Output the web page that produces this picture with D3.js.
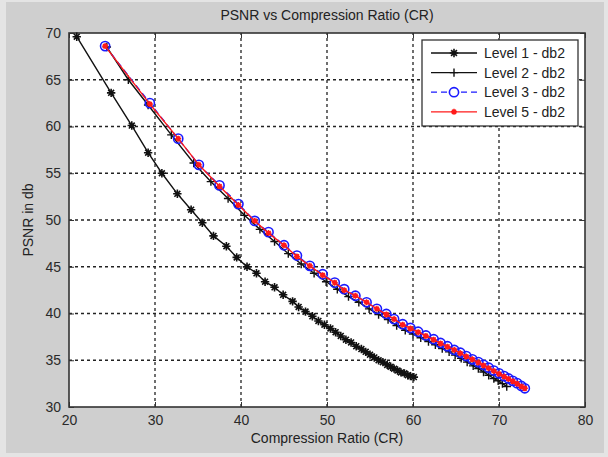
<!DOCTYPE html>
<html lang="en">
<head>
<meta charset="UTF-8">
<title>PSNR vs Compression Ratio (CR)</title>
<script src="https://d3js.org/d3.v7.min.js"></script>
<style>
  body { margin: 0; background: #e4e4e4; }
  svg { display: block; font-family: "Liberation Sans", Arial, sans-serif; }
</style>
</head>
<body>
<div id="chart"></div>
<script>
// Level 1 - db2 (black, asterisk)
const level1X = [20.9, 24.9, 27.3, 29.2, 30.8, 32.6, 34.2, 35.5, 36.8, 38.3, 39.5, 40.7, 41.8, 42.8, 43.9, 44.9, 46.0, 46.7,
  47.5, 48.3, 49.0, 49.7, 50.4, 51.0, 51.6, 52.2, 52.8, 53.4, 54.0, 54.5, 55.0, 55.5, 56.0, 56.5, 57.0, 57.4, 57.8, 58.2, 58.6, 59.0, 59.4, 59.7, 60.1];
const level1Y = [69.6, 63.6, 60.1, 57.2, 55.0, 52.8, 51.1, 49.7, 48.3, 47.2, 46.0, 45.0, 44.3, 43.4, 42.8, 42.0, 41.3, 40.7,
  40.2, 39.7, 39.2, 38.8, 38.4, 38.0, 37.6, 37.2, 36.9, 36.5, 36.2, 35.9, 35.6, 35.3, 35.0, 34.8, 34.5, 34.3, 34.1, 33.9, 33.7, 33.6, 33.4, 33.3, 33.2];

// Level 2 - db2 (black, plus)
const level2X = [24.4, 26.9, 29.2, 31.9, 34.5, 36.5, 38.5, 40.4, 42.2, 43.9, 45.5, 47.0, 48.5, 49.9, 51.2, 52.5, 53.7, 54.9, 56.0, 57.1,
  58.1, 59.1, 60.0, 60.9, 61.8, 62.6, 63.4, 64.2, 64.9, 65.6, 66.3, 67.0, 67.6, 68.2, 68.8, 69.4, 69.9, 70.4, 70.9];
const level2Y = [68.5, 65.0, 62.3, 59.1, 56.1, 54.1, 52.3, 50.5, 49.0, 47.7, 46.4, 45.3, 44.3, 43.4, 42.6, 41.8, 41.2, 40.5, 39.9, 39.35,
  38.7, 38.2, 37.8, 37.4, 37.0, 36.65, 36.25, 35.9, 35.55, 35.2, 34.8, 34.4, 34.1, 33.75, 33.4, 33.05, 32.8, 32.5, 32.2];

// Level 3 - db2 (blue dashed, circle)
const level3X = [24.2, 29.4, 32.7, 35.1, 37.5, 39.7, 41.6, 43.2, 45.0, 46.5, 48.0, 49.5, 50.9, 52.0, 53.3, 54.6, 55.8, 56.9, 57.8,
  58.8, 59.7, 60.6, 61.5, 62.4, 63.2, 64.0, 64.8, 65.5, 66.2, 66.9, 67.6, 68.2, 68.8, 69.4, 70.0, 70.6, 71.1, 71.6, 72.1, 72.6, 73.0];
const level3Y = [68.6, 62.5, 58.7, 55.9, 53.7, 51.7, 49.9, 48.7, 47.3, 46.2, 45.1, 44.2, 43.3, 42.6, 41.9, 41.2, 40.5, 39.95, 39.4,
  38.85, 38.45, 38.05, 37.65, 37.25, 36.85, 36.5, 36.1, 35.8, 35.45, 35.1, 34.8, 34.5, 34.2, 33.9, 33.6, 33.3, 33.05, 32.8, 32.55, 32.25, 32.0];

// Level 5 - db2 (red, star)
const level5X = [24.2, 29.4, 32.7, 35.1, 37.5, 39.7, 41.6, 43.2, 45.0, 46.5, 48.0, 49.5, 50.9, 52.0, 53.3, 54.6, 55.8, 56.9, 57.8,
  58.8, 59.7, 60.6, 61.5, 62.4, 63.2, 64.0, 64.8, 65.5, 66.2, 66.9, 67.6, 68.2, 68.8, 69.4, 70.0, 70.6, 71.1, 71.6, 72.1, 72.6, 73.0];
const level5Y = [68.6, 62.4, 58.7, 55.9, 53.6, 51.6, 49.9, 48.6, 47.3, 46.1, 45.1, 44.1, 43.3, 42.5, 41.9, 41.2, 40.5, 39.9, 39.4,
  38.8, 38.4, 38.0, 37.6, 37.2, 36.8, 36.45, 36.1, 35.75, 35.4, 35.1, 34.75, 34.45, 34.15, 33.85, 33.55, 33.25, 33.0, 32.75, 32.5, 32.2, 32.0];

const xTicks = [20, 30, 40, 50, 60, 70, 80];
const yTicks = [30, 35, 40, 45, 50, 55, 60, 65, 70];
const seriesNames = ["Level 1 - db2", "Level 2 - db2", "Level 3 - db2", "Level 5 - db2"];

const W = 608, H = 457;
const svg = d3.select("#chart").append("svg").attr("width", W).attr("height", H);

// figure background
svg.append("rect").attr("x", 6).attr("y", 2).attr("width", 598).attr("height", 451).attr("fill", "#cfcfcf");

const x = d3.scaleLinear().domain([20, 80]).range([69, 585]);
const y = d3.scaleLinear().domain([30, 70]).range([407, 33]);

svg.append("rect")
  .attr("x", x(20)).attr("y", y(70))
  .attr("width", x(80) - x(20)).attr("height", y(30) - y(70))
  .attr("fill", "#fff");

// grid
const grid = svg.append("g").attr("stroke", "#222").attr("stroke-width", 1.3).attr("stroke-dasharray", "3,3");
xTicks.slice(1, -1).forEach(t => {
  grid.append("line").attr("x1", x(t)).attr("x2", x(t)).attr("y1", y(30)).attr("y2", y(70));
});
yTicks.slice(1, -1).forEach(t => {
  grid.append("line").attr("x1", x(20)).attr("x2", x(80)).attr("y1", y(t)).attr("y2", y(t));
});

// axes (ticks inside, all four sides)
const tickStyle = g => {
  g.select(".domain").remove();
  g.selectAll("line").attr("stroke", "#333");
  g.selectAll("text").attr("fill", "#2a2a2a").attr("font-size", 14);
};
svg.append("g").attr("transform", `translate(0,${y(30)})`)
  .call(d3.axisBottom(x).tickValues(xTicks).tickSizeInner(-5).tickPadding(8).tickSizeOuter(0))
  .call(tickStyle);
svg.append("g").attr("transform", `translate(0,${y(70)})`)
  .call(d3.axisTop(x).tickValues(xTicks).tickSizeInner(-5).tickFormat("").tickSizeOuter(0))
  .call(tickStyle);
svg.append("g").attr("transform", `translate(${x(20)},0)`)
  .call(d3.axisLeft(y).tickValues(yTicks).tickSizeInner(-5).tickPadding(8).tickSizeOuter(0))
  .call(tickStyle);
svg.append("g").attr("transform", `translate(${x(80)},0)`)
  .call(d3.axisRight(y).tickValues(yTicks).tickSizeInner(-5).tickFormat("").tickSizeOuter(0))
  .call(tickStyle);

svg.append("rect")
  .attr("x", x(20)).attr("y", y(70))
  .attr("width", x(80) - x(20)).attr("height", y(30) - y(70))
  .attr("fill", "none").attr("stroke", "#333").attr("stroke-width", 1.6);

// marker paths
const star = r => `M${-r},0H${r}M0,${-r}V${r}M${-r * 0.7},${-r * 0.7}L${r * 0.7},${r * 0.7}M${-r * 0.7},${r * 0.7}L${r * 0.7},${-r * 0.7}`;
const plus = r => `M${-r},0H${r}M0,${-r}V${r}`;

const line = d3.line().x(d => x(d[0])).y(d => y(d[1]));
const zip = (a, b) => a.map((v, i) => [v, b[i]]);

const series = [
  { data: zip(level1X, level1Y), color: "#111", dash: null, marker: "star" },
  { data: zip(level2X, level2Y), color: "#111", dash: null, marker: "plus" },
  { data: zip(level3X, level3Y), color: "#1a1aff", dash: "6,4", marker: "circle" },
  { data: zip(level5X, level5Y), color: "#ff1a1a", dash: null, marker: "redstar" }
];

function drawMarker(g, kind, color) {
  if (kind === "star") {
    g.append("path").attr("d", star(4.2)).attr("stroke", color).attr("stroke-width", 1.6).attr("fill", "none");
  } else if (kind === "plus") {
    g.append("path").attr("d", plus(4.2)).attr("stroke", color).attr("stroke-width", 1.4).attr("fill", "none");
  } else if (kind === "circle") {
    g.append("circle").attr("r", 4.6).attr("stroke", color).attr("stroke-width", 1.6).attr("fill", "none");
  } else {
    g.append("circle").attr("r", 2.4).attr("fill", color);
    g.append("path").attr("d", star(3)).attr("stroke", color).attr("stroke-width", 1.4).attr("fill", "none");
  }
}

series.forEach(s => {
  svg.append("path").datum(s.data)
    .attr("d", line).attr("fill", "none")
    .attr("stroke", s.color).attr("stroke-width", 1.4)
    .attr("stroke-dasharray", s.dash);
  svg.append("g").selectAll("g").data(s.data).join("g")
    .attr("transform", d => `translate(${x(d[0])},${y(d[1])})`)
    .each(function () { drawMarker(d3.select(this), s.marker, s.color); });
});

// titles
svg.append("text").attr("x", 327).attr("y", 20).attr("text-anchor", "middle")
  .attr("font-size", 14).attr("fill", "#222").text("PSNR vs Compression Ratio (CR)");
svg.append("text").attr("x", 327).attr("y", 443).attr("text-anchor", "middle")
  .attr("font-size", 14).attr("fill", "#222").text("Compression Ratio (CR)");
svg.append("text").attr("transform", "translate(33,220) rotate(-90)").attr("text-anchor", "middle")
  .attr("font-size", 14).attr("fill", "#222").text("PSNR in db");

// legend
const legend = svg.append("g");
legend.append("rect").attr("x", 422).attr("y", 40).attr("width", 156).attr("height", 86)
  .attr("fill", "#fff").attr("stroke", "#333").attr("stroke-width", 1.3);
series.forEach((s, i) => {
  const ly = 53 + i * 19.6;
  legend.append("line").attr("x1", 431).attr("x2", 477).attr("y1", ly).attr("y2", ly)
    .attr("stroke", s.color).attr("stroke-width", 1.3).attr("stroke-dasharray", s.dash);
  const m = legend.append("g").attr("transform", `translate(454,${ly})`);
  if (s.dash) m.append("rect").attr("x", -6).attr("y", -3).attr("width", 12).attr("height", 6).attr("fill", "#fff");
  drawMarker(m, s.marker, s.color);
  legend.append("text").attr("x", 484).attr("y", ly + 5).attr("font-size", 14).attr("fill", "#222").text(seriesNames[i]);
});
</script>
</body>
</html>
